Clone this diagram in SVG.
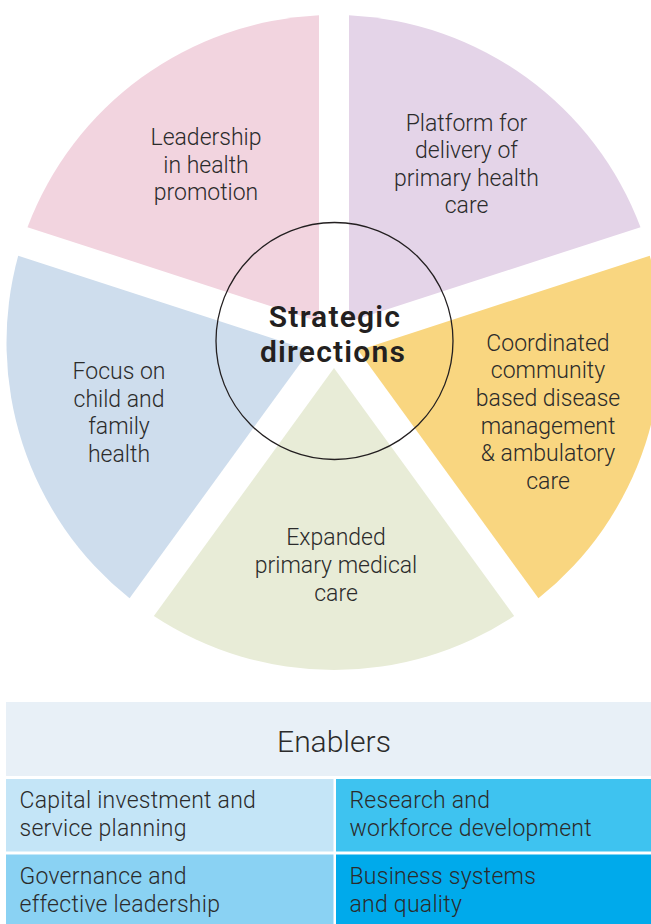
<svg xmlns="http://www.w3.org/2000/svg" width="651" height="924" viewBox="0 0 651 924">
  <style>
    .lbl { font-family: Roboto, "Liberation Sans", sans-serif; font-weight: 300; font-size: 23px; fill: #2b2b2b; text-anchor: middle; }
    .hub { font-family: Roboto, "Liberation Sans", sans-serif; font-weight: 600; font-size: 30px; letter-spacing: 1.2px; fill: #231f20; text-anchor: middle; }
    .cell { font-family: Roboto, "Liberation Sans", sans-serif; font-weight: 300; font-size: 23px; letter-spacing: 0.25px; fill: #2b2b2b; }
    .head { font-family: Roboto, "Liberation Sans", sans-serif; font-weight: 300; font-size: 30px; fill: #2b2b2b; text-anchor: middle; }
  </style>
  <rect width="651" height="924" fill="#ffffff"/>

  <!-- Strategic direction wedges: one circle (c=334,342.5 r=327.5) cut by 30px radial gaps -->
  <g id="leadership-health-promotion">
    <path d="M319,321.854 L319,15.344 A327.5,327.5 0 0 0 27.49,227.137 Z" fill="#f2d4df"/>
    <text class="lbl"><tspan x="206" y="145">Leadership</tspan><tspan x="206" y="172.5">in health</tspan><tspan x="206" y="200">promotion</tspan></text>
  </g>
  <g id="platform-primary-health-care">
    <path d="M349,321.854 L349,15.344 A327.5,327.5 0 0 1 640.51,227.137 Z" fill="#e4d4e8"/>
    <text class="lbl"><tspan x="466.5" y="130.5">Platform for</tspan><tspan x="466.5" y="158">delivery of</tspan><tspan x="466.5" y="185.5">primary health</tspan><tspan x="466.5" y="213">care</tspan></text>
  </g>
  <g id="coordinated-community-care">
    <path d="M358.271,350.386 L649.78,255.669 A327.5,327.5 0 0 1 538.433,598.359 Z" fill="#f9d680"/>
    <text class="lbl"><tspan x="548" y="350.5">Coordinated</tspan><tspan x="548" y="378.2">community</tspan><tspan x="548" y="405.9">based disease</tspan><tspan x="548" y="433.6">management</tspan><tspan x="548" y="461.3">&amp; ambulatory</tspan><tspan x="548" y="489">care</tspan></text>
  </g>
  <g id="expanded-primary-medical-care">
    <path d="M334,368.02 L514.163,615.993 A327.5,327.5 0 0 1 153.837,615.993 Z" fill="#e8ecd7"/>
    <text class="lbl"><tspan x="336" y="545">Expanded</tspan><tspan x="336" y="573">primary medical</tspan><tspan x="336" y="601">care</tspan></text>
  </g>
  <g id="child-family-health">
    <path d="M309.729,350.386 L129.567,598.359 A327.5,327.5 0 0 1 18.22,255.669 Z" fill="#cedded"/>
    <text class="lbl"><tspan x="119" y="379">Focus on</tspan><tspan x="119" y="406.7">child and</tspan><tspan x="119" y="434.3">family</tspan><tspan x="119" y="462">health</tspan></text>
  </g>

  <!-- Hub ring and title -->
  <g id="strategic-directions">
    <circle cx="334.5" cy="341" r="118.5" fill="none" stroke="#231f20" stroke-width="1.3"/>
    <text class="hub"><tspan x="335" y="327">Strategic</tspan><tspan x="333" y="362">directions</tspan></text>
  </g>

  <!-- Enablers table -->
  <g id="enablers">
    <rect x="6" y="702" width="645" height="74" fill="#e8f0f7"/>
    <text class="head" x="334" y="752">Enablers</text>
  </g>
  <g id="capital-investment">
    <rect x="6" y="779" width="327.5" height="72.5" fill="#c4e5f7"/>
    <text class="cell"><tspan x="19.5" y="807.5">Capital investment and</tspan><tspan x="19.5" y="835.7">service planning</tspan></text>
  </g>
  <g id="research-workforce">
    <rect x="336" y="779" width="315" height="72.5" fill="#3ec3f0"/>
    <text class="cell"><tspan x="349.5" y="807.5">Research and</tspan><tspan x="349.5" y="835.7">workforce development</tspan></text>
  </g>
  <g id="governance-leadership">
    <rect x="6" y="854.5" width="327.5" height="69.5" fill="#8ad2f3"/>
    <text class="cell"><tspan x="19.5" y="884.3">Governance and</tspan><tspan x="19.5" y="912.3">effective leadership</tspan></text>
  </g>
  <g id="business-systems">
    <rect x="336" y="854.5" width="315" height="69.5" fill="#00aaeb"/>
    <text class="cell"><tspan x="349.5" y="884.3">Business systems</tspan><tspan x="349.5" y="912.3">and quality</tspan></text>
  </g>
</svg>
